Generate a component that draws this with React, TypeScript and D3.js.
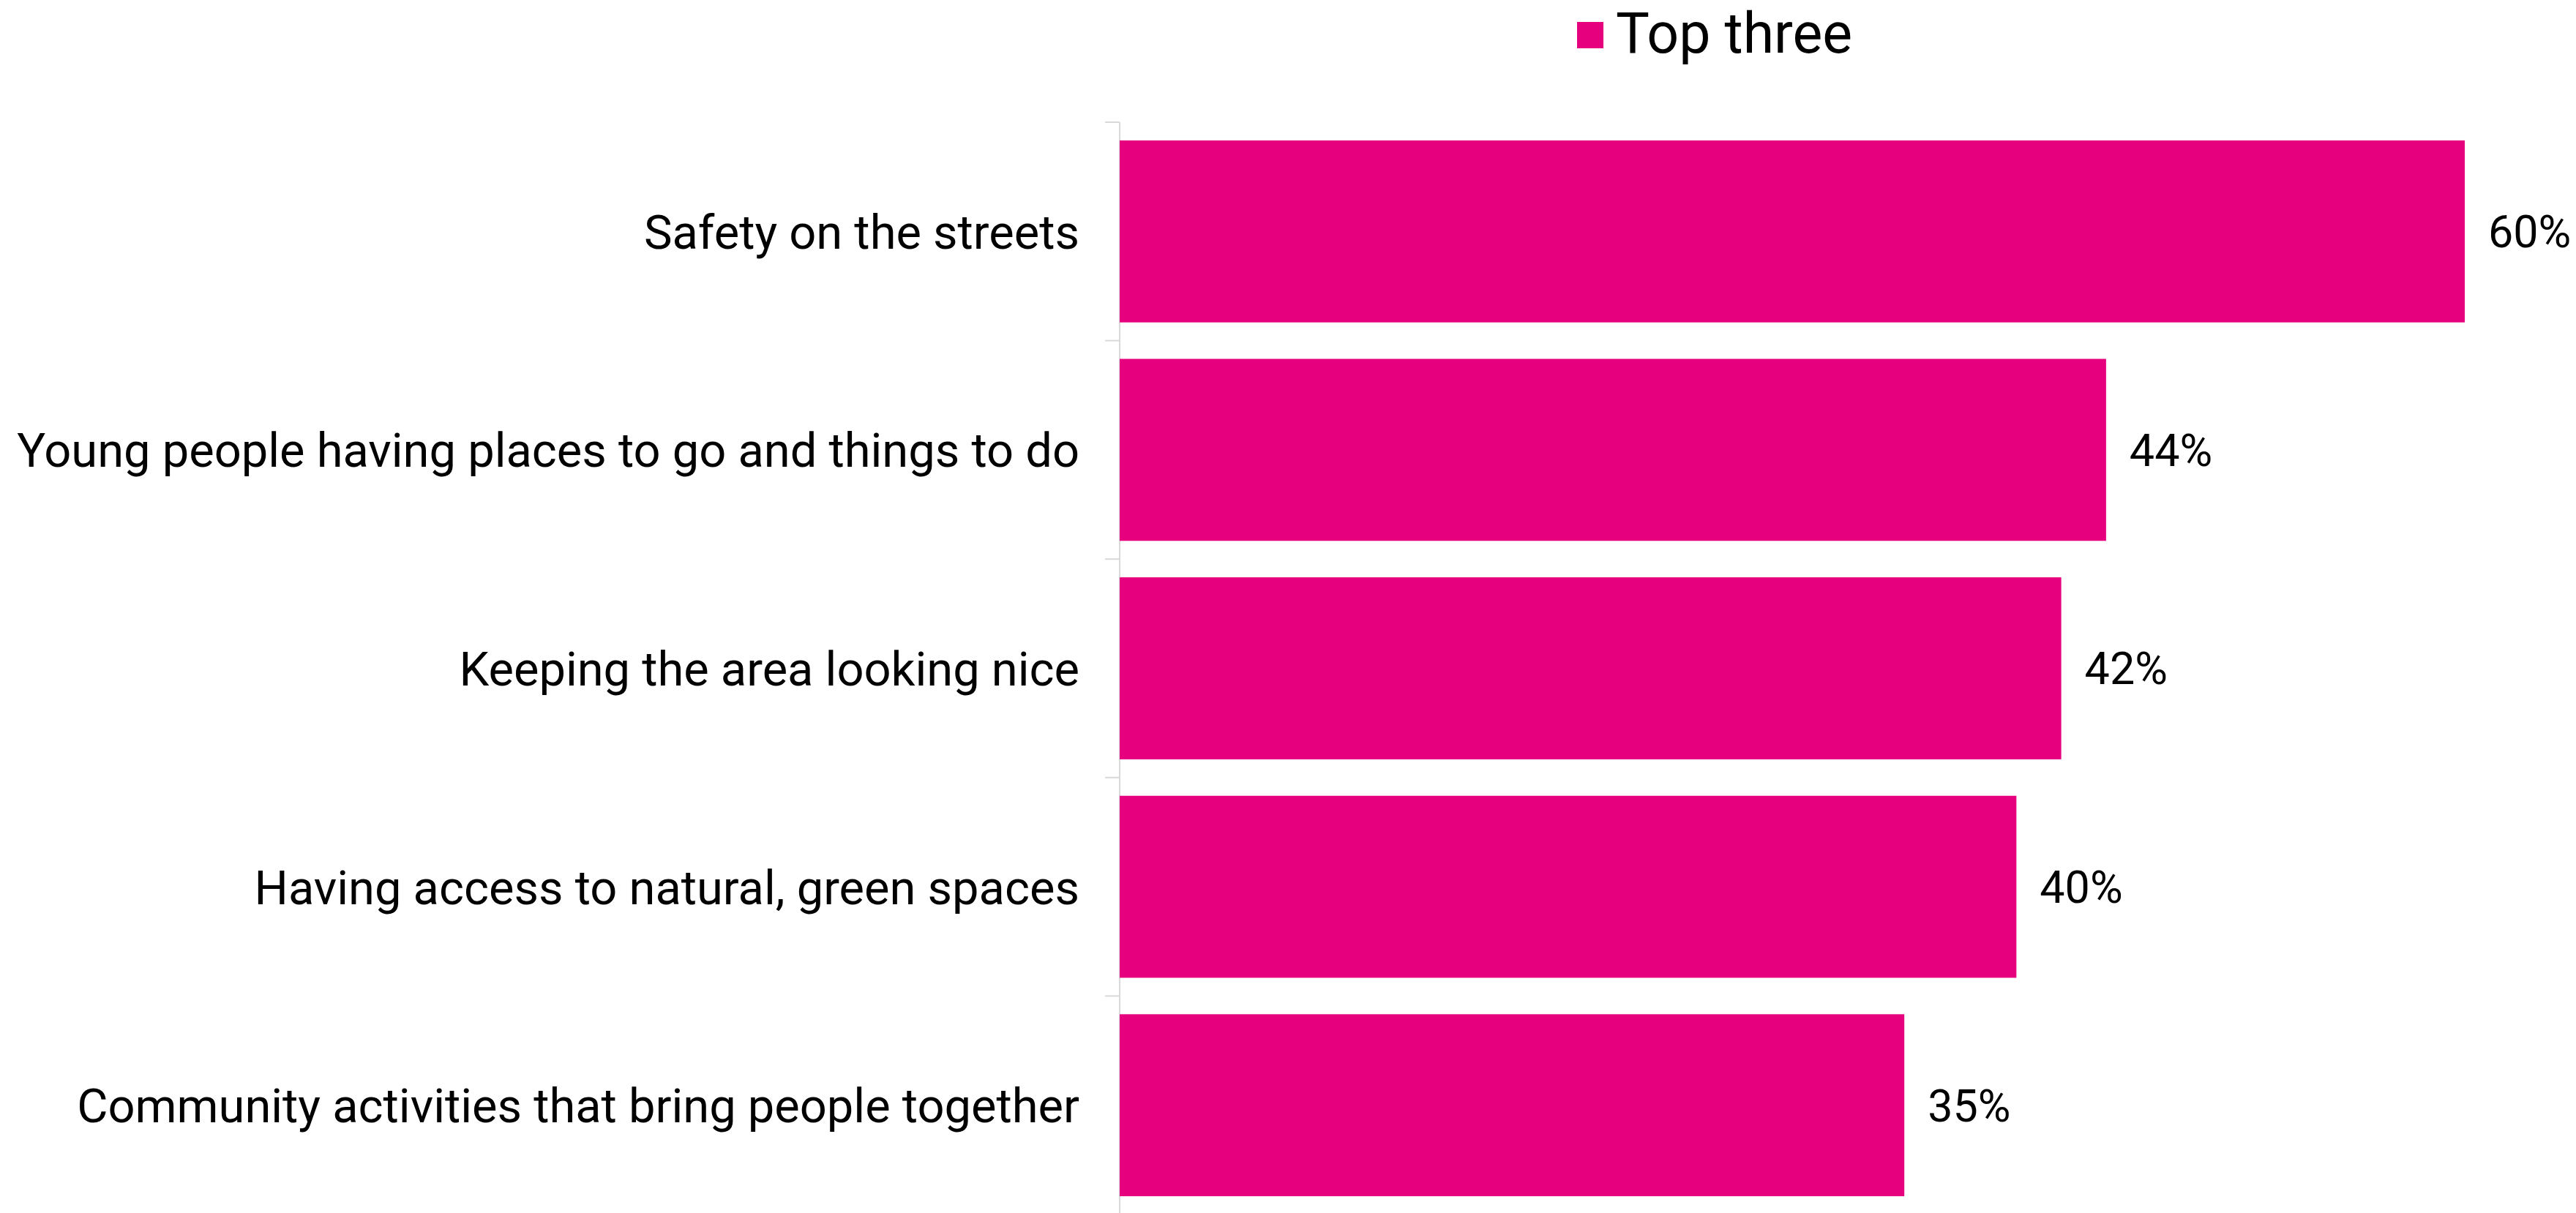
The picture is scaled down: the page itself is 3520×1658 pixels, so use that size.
import React from "react";
import * as d3 from "d3";

const categories = [
  "Safety on the streets",
  "Young people having places to go and things to do",
  "Keeping the area looking nice",
  "Having access to natural, green spaces",
  "Community activities that bring people together",
];
const values = [60, 44, 42, 40, 35];
const seriesName = "Top three";

const W = 3520;
const H = 1658;
const BAR = "#E6007E";
const FONT = "Roboto, 'Open Sans', sans-serif";

export default function App() {
  const x = d3.scaleLinear().domain([0, 60]).range([1530, 3368]);
  const y = d3
    .scaleBand<string>()
    .domain(categories)
    .range([167, 1660])
    .paddingInner(0.167)
    .paddingOuter(0.0835);
  const step = y.step();
  const boundaries = categories.map((c) => (y(c) as number) - (step * y.paddingInner()) / 2);
  boundaries.push(boundaries[boundaries.length - 1] + step);

  return (
    <svg
      width={W}
      height={H}
      style={{ position: "absolute", left: 0, top: 0, background: "#fff" }}
      fontFamily={FONT}
    >
      <rect width={W} height={H} fill="#fff" />
      {/* legend */}
      <rect x={2155} y={30} width={36} height={36} fill={BAR} />
      <text x={2208} y={72} fontSize={77} fill="#000">
        {seriesName}
      </text>
      {/* axis */}
      <line x1={x(0)} x2={x(0)} y1={boundaries[0]} y2={H} stroke="#d9d9d9" strokeWidth={2} />
      {boundaries.map((b, i) => (
        <line key={i} x1={x(0) - 20} x2={x(0)} y1={b} y2={b} stroke="#d9d9d9" strokeWidth={2} />
      ))}
      {categories.map((c, i) => {
        const yy = y(c) as number;
        const bw = y.bandwidth();
        return (
          <g key={c}>
            <rect x={x(0)} y={yy} width={x(values[i]) - x(0)} height={bw} fill={BAR} />
            <text
              x={1475}
              y={yy + bw / 2}
              dy="0.36em"
              textAnchor="end"
              fontSize={65}
              fill="#000"
            >
              {c}
            </text>
            <text x={x(values[i]) + 32} y={yy + bw / 2} dy="0.36em" fontSize={61} fill="#000">
              {values[i]}%
            </text>
          </g>
        );
      })}
    </svg>
  );
}
